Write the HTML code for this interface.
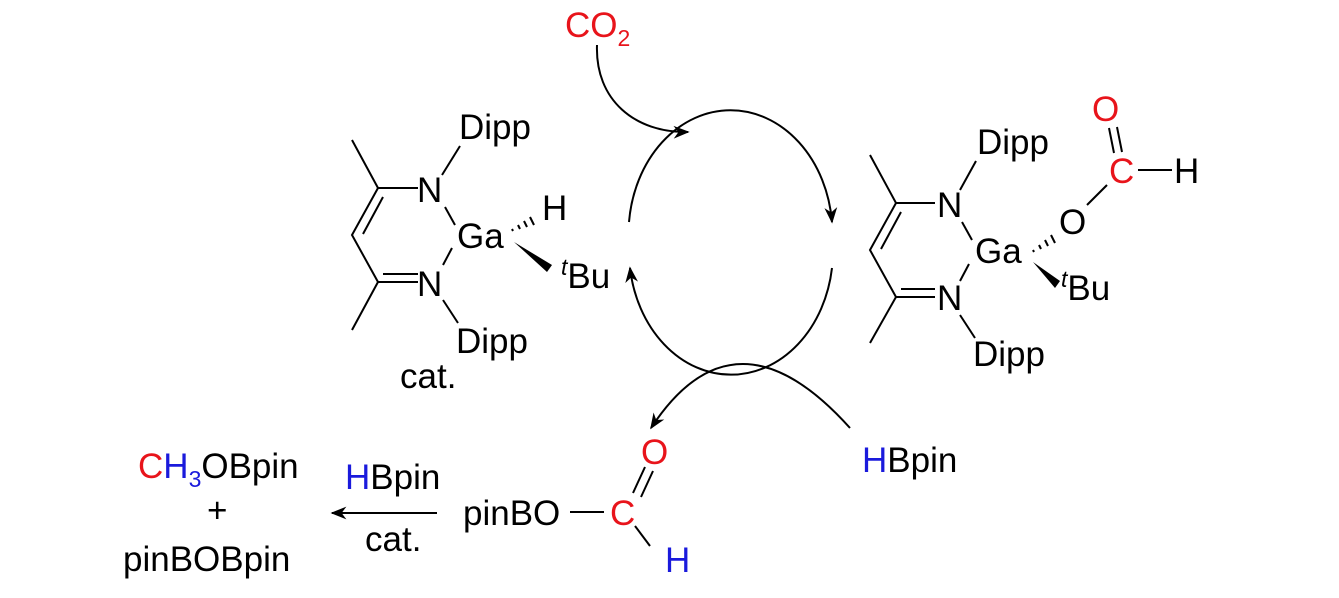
<!DOCTYPE html>
<html><head><meta charset="utf-8"><style>
html,body{margin:0;padding:0;background:#fff;}
svg{display:block;}
text{font-family:"Liberation Sans",Arial,sans-serif;font-size:35px;fill:#000;}
.r{fill:#e8141b;} .b{fill:#1a1adc;}
</style></head><body>
<svg width="1339" height="598" viewBox="0 0 1339 598" xmlns="http://www.w3.org/2000/svg">
<defs>
<marker id="ah" viewBox="0 0 10 10" refX="9" refY="5" markerWidth="16" markerHeight="16" markerUnits="userSpaceOnUse" orient="auto">
<path d="M0,1 L10,5 L0,9 L3,5 Z" fill="#000"/></marker>
</defs>
<g stroke="#000" stroke-width="2" fill="none">
<path d="M629,222 A102,124 0 0 1 832,222" marker-end="url(#ah)"/>
<path d="M832,268 A102,124 0 0 1 630,268" marker-end="url(#ah)"/>
<path d="M597,45 C595,100 635,133 688,132" marker-end="url(#ah)"/>
<path d="M850,428 Q735,300 651,428" marker-end="url(#ah)"/>
<path d="M437,513 L332,513" marker-end="url(#ah)"/>

<path d="M352,140 L378,188 L418,188"/>
<path d="M378,188 L352,235 L378,282 L418,282"/>
<path d="M383,197 L363,234"/>
<path d="M383,274 L418,274"/>
<path d="M378,282 L352,330"/>
<path d="M442,175 L460,146"/>
<path d="M445,207 L455,225"/>
<path d="M452,248 L443,265"/>
<path d="M443,300 L458,323"/>

<path d="M870,155 L896,203 L935,203"/>
<path d="M896,203 L870,250 L896,297 L935,297"/>
<path d="M901,212 L881,249"/>
<path d="M901,289 L935,289"/>
<path d="M896,297 L870,343"/>
<path d="M960,190 L976,161"/>
<path d="M962,222 L972,240"/>
<path d="M969,264 L960,281"/>
<path d="M960,315 L975,338"/>
<path d="M1087,205 L1107,185"/>
<path d="M1138,170 L1172,170"/>
<path d="M1114,153 L1109,128 M1122,152 L1117,127"/>

<path d="M570,512 L604,512"/>
<path d="M633,493 L645,467 M641,497 L653,471"/>
<path d="M635,526 L650,546"/>
</g>
<polygon points="514,242 552,265 547,272" fill="#000"/>
<g stroke="#000" stroke-width="2">
<line x1="512" y1="229" x2="513" y2="231"/><line x1="518" y1="225" x2="520" y2="229"/>
<line x1="524" y1="221" x2="527" y2="227"/><line x1="530" y1="217" x2="534" y2="225"/>
<line x1="1033" y1="250" x2="1034" y2="252"/><line x1="1039" y1="245" x2="1041" y2="249"/>
<line x1="1045" y1="240" x2="1048" y2="246"/><line x1="1051" y1="235" x2="1055" y2="243"/>
</g>
<polygon points="1033,262 1060,281 1055,288" fill="#000"/>

<text x="565" y="37" class="r">CO<tspan font-size="23" dy="9" class="r">2</tspan></text>

<text x="459" y="139">Dipp</text>
<text x="417" y="202">N</text>
<text x="457" y="248">Ga</text>
<text x="542" y="220">H</text>
<text x="561" y="288"><tspan font-size="23" dy="-13" font-style="italic">t</tspan><tspan dy="13">Bu</tspan></text>
<text x="417" y="296">N</text>
<text x="456" y="353">Dipp</text>
<text x="400" y="388">cat.</text>

<text x="977" y="154">Dipp</text>
<text x="937" y="217">N</text>
<text x="975" y="263">Ga</text>
<text x="1059" y="234">O</text>
<text x="1109" y="183" class="r">C</text>
<text x="1174" y="183">H</text>
<text x="1092" y="121" class="r">O</text>
<text x="1061" y="300"><tspan font-size="23" dy="-13" font-style="italic">t</tspan><tspan dy="13">Bu</tspan></text>
<text x="937" y="310">N</text>
<text x="973" y="366">Dipp</text>

<text x="862" y="472"><tspan class="b">H</tspan>Bpin</text>

<text x="138" y="478"><tspan class="r">C</tspan><tspan class="b">H</tspan><tspan class="b" font-size="23" dy="9">3</tspan><tspan dy="-9">OBpin</tspan></text>
<text x="207" y="522">+</text>
<text x="123" y="571">pinBOBpin</text>
<text x="345" y="489"><tspan class="b">H</tspan>Bpin</text>
<text x="365" y="551">cat.</text>
<text x="463" y="525">pinBO</text>
<text x="610" y="525" class="r">C</text>
<text x="641" y="464" class="r">O</text>
<text x="665" y="572" class="b">H</text>
</svg>
</body></html>
